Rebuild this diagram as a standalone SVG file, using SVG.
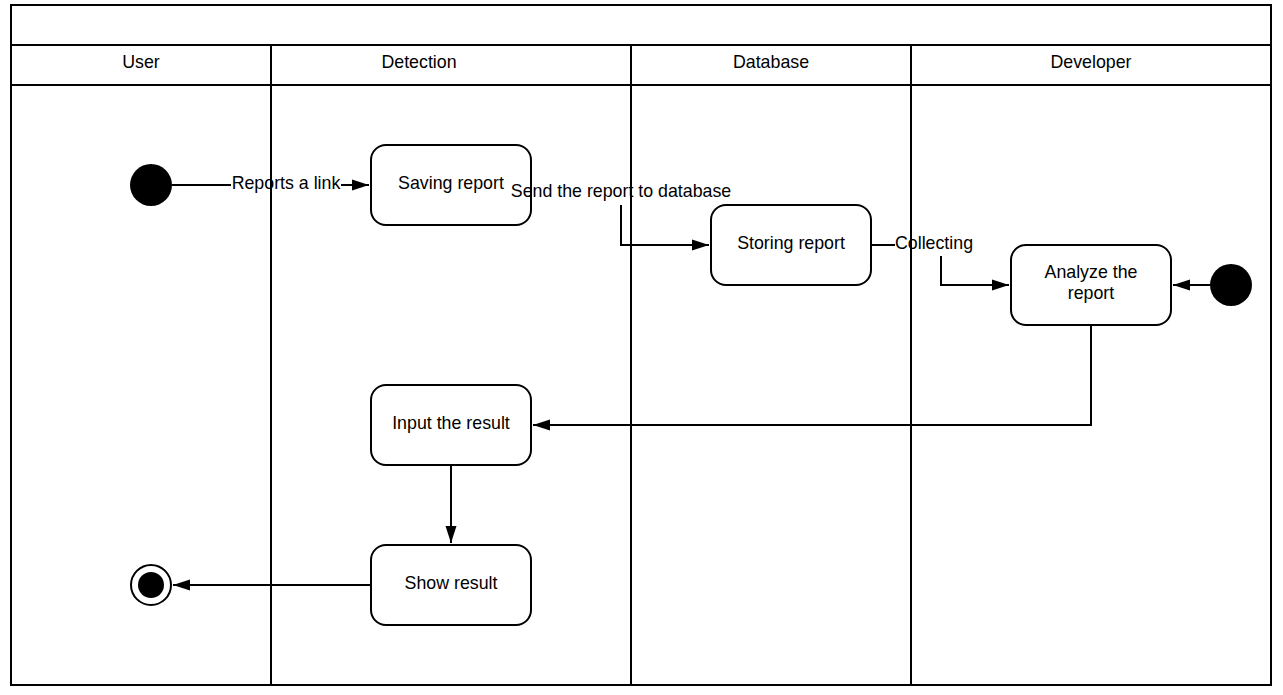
<svg xmlns="http://www.w3.org/2000/svg" width="1283" height="695" viewBox="0 0 1283 695">
<style>
.lane{fill:none;stroke:#000;stroke-width:2}
.node rect{fill:#fff;stroke:#000;stroke-width:2}
text{font-family:"Liberation Sans",Arial,sans-serif;font-size:17.8px;fill:#000;text-anchor:middle}
.conn path{fill:none;stroke:#000;stroke-width:2}
</style>
<defs>
<marker id="arr" markerWidth="18" markerHeight="12" refX="17" refY="6" orient="auto" markerUnits="userSpaceOnUse">
<path d="M0,0.5 L17,6 L0,11.5 Z" fill="#000"/>
</marker>
</defs>
<rect width="1283" height="695" fill="#fff"/>
<g id="pool">
<rect class="lane" x="11" y="5" width="1260" height="680"/>
<path class="lane" d="M11,45 H1271 M11,85 H1271 M271,45 V685 M631,45 V685 M911,45 V685"/>
<text x="141" y="68">User</text>
<text x="419" y="68">Detection</text>
<text x="771" y="68">Database</text>
<text x="1091" y="68">Developer</text>
</g>
<g id="start1"><circle cx="151" cy="185" r="21" fill="#000"/></g>
<g id="start2"><circle cx="1231" cy="285" r="21" fill="#000"/></g>
<g id="end"><circle cx="151" cy="585" r="20" fill="#fff" stroke="#000" stroke-width="2"/><circle cx="151" cy="585" r="13" fill="#000"/></g>
<g class="node" id="saving"><rect x="371" y="145" width="160" height="80" rx="15"/><text x="451" y="189">Saving report</text></g>
<g class="node" id="storing"><rect x="711" y="205" width="160" height="80" rx="15"/><text x="791" y="249">Storing report</text></g>
<g class="node" id="analyze"><rect x="1011" y="245" width="160" height="80" rx="15"/><text x="1091" y="278">Analyze the</text><text x="1091" y="299">report</text></g>
<g class="node" id="input"><rect x="371" y="385" width="160" height="80" rx="15"/><text x="451" y="429">Input the result</text></g>
<g class="node" id="show"><rect x="371" y="545" width="160" height="80" rx="15"/><text x="451" y="589">Show result</text></g>
<g class="conn" id="connectors">
<path d="M172,185 H231"/>
<path d="M341,185 H369" marker-end="url(#arr)"/>
<text x="286" y="189">Reports a link</text>
<path d="M621,205 V245 H709" marker-end="url(#arr)"/>
<text x="621" y="197">Send the report to database</text>
<path d="M871,245 H895"/>
<text x="934" y="249">Collecting</text>
<path d="M941,256 V285 H1009" marker-end="url(#arr)"/>
<path d="M1210,285 H1173" marker-end="url(#arr)"/>
<path d="M1091,325 V425 H533" marker-end="url(#arr)"/>
<path d="M451,465 V543" marker-end="url(#arr)"/>
<path d="M371,585 H173" marker-end="url(#arr)"/>
</g>
</svg>
